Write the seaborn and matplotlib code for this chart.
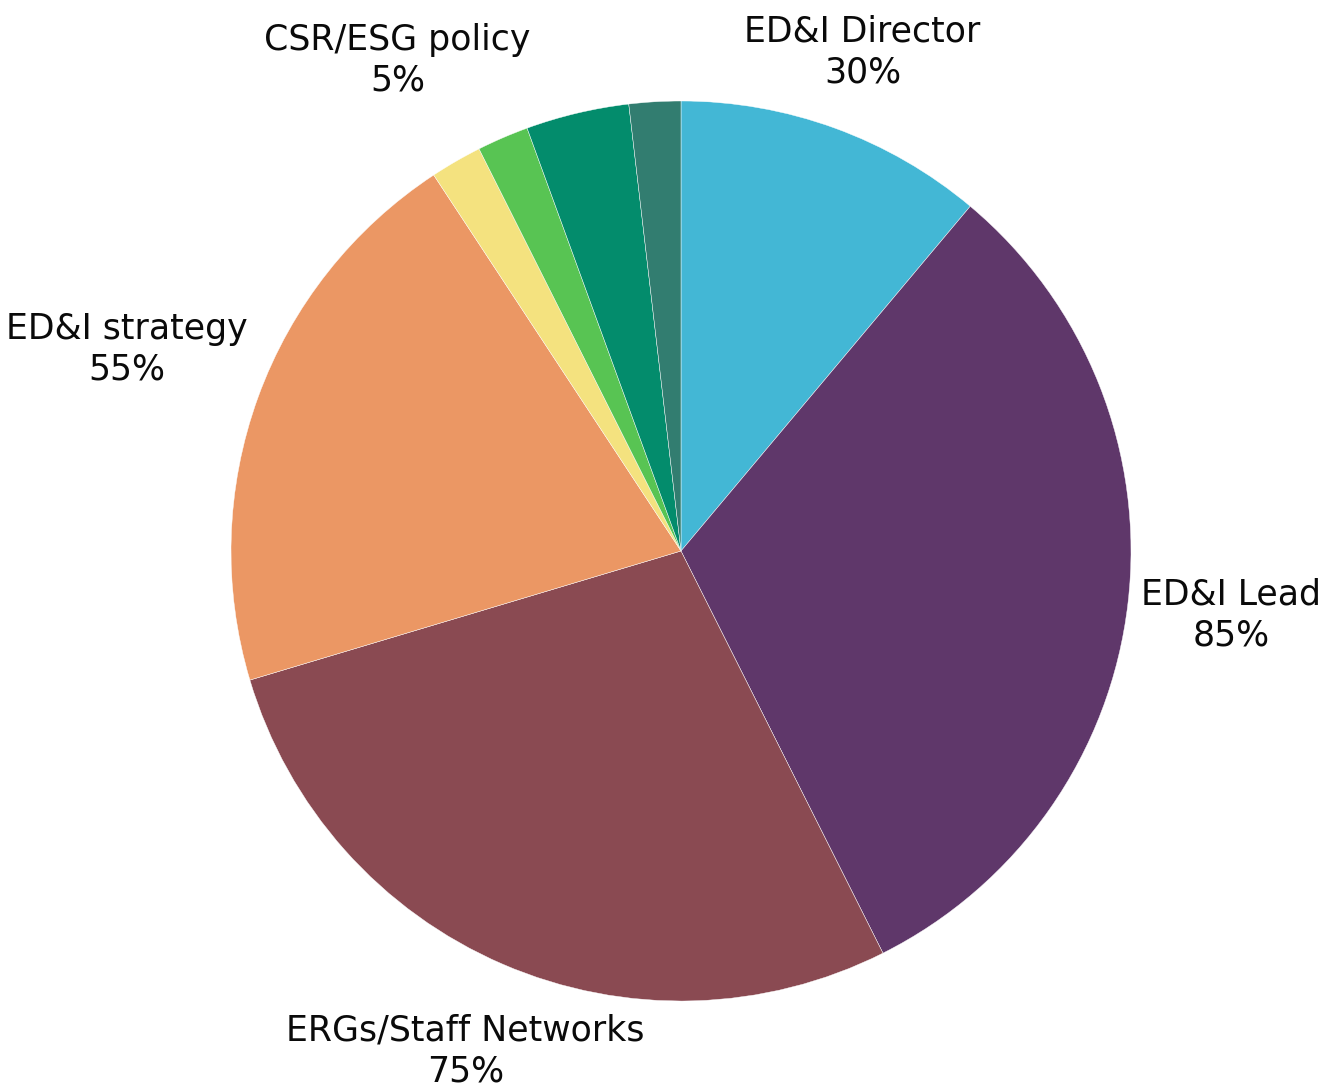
import numpy as np
import matplotlib
matplotlib.use("Agg")
import matplotlib.pyplot as plt
import seaborn as sns

# Share of organisations with each ED&I measure in place
categories = ["ED&I Director", "ED&I Lead", "ERGs/Staff Networks", "ED&I strategy",
              "CSR/ESG policy", "", "", ""]
values = [30, 85, 75, 55, 5, 5, 10, 5]
show_label = [True, True, True, True, True, False, False, False]
colors = ["#43B7D5", "#5F376A", "#8A4A52", "#EB9764",
          "#F4E27F", "#58C453", "#038C6C", "#327D70"]
label_radius = [1.18, 1.23, 1.21, 1.31, 1.26, 1.2, 1.2, 1.2]

sns.set_theme(style="white")
plt.rcParams["font.family"] = ["DejaVu Sans"]

fig = plt.figure(figsize=(13.32, 10.91), dpi=100)
cx, cy, r = 681 / 1332, 1 - 551 / 1091, 450
ax = fig.add_axes([cx - r / 1332, cy - r / 1091, 2 * r / 1332, 2 * r / 1091])

wedges, _ = ax.pie(values, colors=colors, startangle=90, counterclock=False,
                   radius=1.0, wedgeprops=dict(edgecolor="white", linewidth=0.3))
ax.set_xlim(-1, 1)
ax.set_ylim(-1, 1)
ax.set_aspect("equal")
ax.axis("off")

total = float(sum(values))
cum = np.cumsum([0] + values)
for i, (name, v) in enumerate(zip(categories, values)):
    if not show_label[i]:
        continue
    mid = np.deg2rad((cum[i] + v / 2) / total * 360)
    x = label_radius[i] * np.sin(mid)
    y = label_radius[i] * np.cos(mid)
    ax.text(x, y, f"{name}\n{v}%", ha="center", va="center", fontsize=25,
            color="#0a0a0a", linespacing=1.25, clip_on=False)

fig.savefig("out.png", dpi=100, facecolor="white")
